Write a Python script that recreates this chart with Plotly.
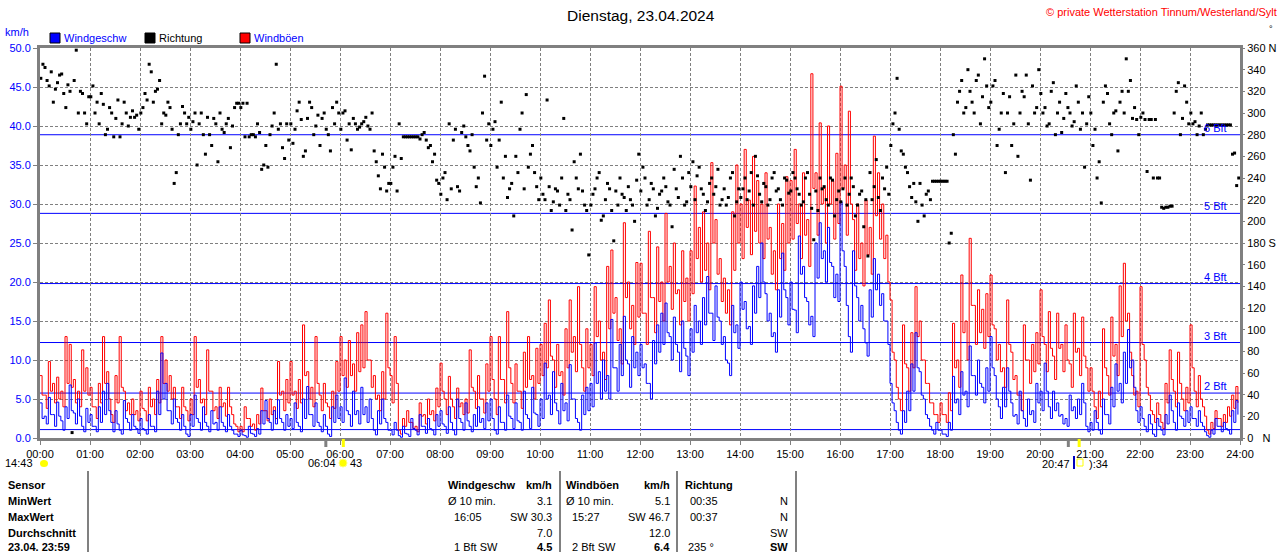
import plotly.graph_objects as go

# 5-min windows, one row per hour (00:00 .. 23:00): peak and trough
wind = [
    4.5, 2.8, 5.2, 3.0, 4.6, 2.2, 4.0, 6.8, 3.2, 5.0, 1.5, 3.8,
    3.0, 1.5, 4.0, 6.0, 7.0, 2.0, 3.5, 1.0, 4.8, 2.0, 3.0, 1.2,
    2.5, 1.0, 3.0, 1.5, 6.0, 10.9, 7.0, 3.5, 5.0, 2.0, 3.0, 0.5,
    3.0, 5.5, 2.0, 4.0, 1.5, 3.5, 2.0, 4.0, 1.5, 3.0, 1.0, 0.5,
    1.0, 0.3, 1.5, 0.5, 1.2, 3.5, 4.8, 2.0, 3.5, 4.9, 2.0, 3.0,
    2.5, 4.5, 1.5, 5.0, 6.6, 3.0, 4.5, 1.5, 3.0, 0.5, 4.0, 5.5,
    4.0, 7.7, 3.0, 6.0, 3.5, 6.5, 4.0, 5.0, 1.0, 3.5, 5.0, 2.0,
    1.0, 2.0, 0.3, 1.5, 0.5, 2.5, 1.0, 3.0, 1.5, 2.5, 1.0, 3.0,
    3.5, 1.5, 4.0, 1.0, 5.0, 2.0, 4.5, 1.5, 3.0, 4.0, 2.5, 4.5,
    5.0, 1.0, 4.0, 2.0, 5.5, 2.5, 4.5, 2.0, 6.0, 2.5, 6.5, 3.0,
    5.0, 9.6, 5.5, 8.5, 3.5, 7.0, 4.5, 9.4, 5.0, 2.0, 5.5, 6.5,
    7.0, 12.2, 8.5, 10.0, 8.0, 15.2, 9.0, 12.0, 15.6, 9.5, 13.0, 11.0,
    12.0, 9.5, 7.0, 12.5, 14.5, 16.0, 17.3, 13.0, 15.5, 11.0, 15.0, 10.5,
    14.0, 17.0, 15.0, 18.0, 20.7, 16.0, 19.5, 15.0, 13.0, 9.6, 17.0, 14.5,
    20.0, 17.5, 14.3, 19.5, 22.0, 25.0, 18.5, 16.0, 13.5, 19.0, 23.7, 18.0,
    20.0, 16.4, 25.9, 22.0, 17.5, 15.6, 25.0, 27.6, 24.0, 27.0, 22.0, 21.0,
    30.3, 22.0, 13.0, 24.0, 18.0, 17.0, 12.2, 19.0, 23.0, 21.0, 18.5, 15.0,
    7.0, 3.5, 1.0, 3.5, 6.0, 9.5, 13.5, 8.5, 5.0, 2.5, 1.0, 2.0,
    1.0, 0.5, 2.0, 7.9, 5.0, 8.5, 6.0, 11.8, 8.0, 10.0, 6.5, 9.0,
    13.0, 8.0, 4.0, 6.5, 9.0, 4.5, 3.0, 6.0, 2.5, 5.0, 3.5, 7.0,
    6.0, 9.6, 4.0, 6.0, 4.5, 3.0, 2.5, 5.5, 4.0, 5.0, 7.0, 1.5,
    2.0, 3.5, 1.0, 5.0, 3.0, 6.5, 9.5, 7.0, 11.0, 13.9, 10.0, 3.5,
    4.0, 1.5, 3.0, 0.5, 2.5, 1.0, 3.0, 5.5, 2.0, 4.5, 2.5, 3.5,
    4.0, 2.5, 3.5, 1.5, 0.3, 1.0, 2.5, 1.5, 2.0, 1.0, 3.5, 4.8,
]

wind_lo = [
    2.5, 1.8, 3.0, 1.5, 2.8, 1.0, 2.5, 3.5, 1.8, 2.8, 0.8, 2.0,
    1.5, 0.8, 2.0, 3.0, 3.5, 0.8, 1.8, 0.5, 2.5, 1.0, 1.5, 0.6,
    1.2, 0.5, 1.5, 0.8, 3.0, 5.0, 3.5, 1.8, 2.5, 1.0, 1.5, 0.2,
    1.5, 2.5, 1.0, 2.0, 0.8, 1.8, 1.0, 2.0, 0.8, 1.5, 0.5, 0.2,
    0.4, 0.1, 0.6, 0.2, 0.5, 1.8, 2.5, 1.0, 1.8, 2.5, 1.0, 1.5,
    1.2, 2.0, 0.8, 2.5, 3.0, 1.5, 2.0, 0.8, 1.5, 0.2, 2.0, 2.5,
    2.0, 3.5, 1.5, 3.0, 1.8, 3.0, 2.0, 2.5, 0.4, 1.8, 2.5, 1.0,
    0.4, 1.0, 0.1, 0.6, 0.2, 1.2, 0.4, 1.5, 0.6, 1.2, 0.4, 1.5,
    1.8, 0.6, 2.0, 0.4, 2.5, 1.0, 2.2, 0.8, 1.5, 2.0, 1.2, 2.2,
    2.5, 0.5, 2.0, 1.0, 2.8, 1.2, 2.2, 1.0, 3.0, 1.2, 3.2, 1.5,
    2.5, 5.0, 3.0, 4.5, 1.8, 3.5, 2.2, 5.0, 2.5, 1.0, 3.0, 3.5,
    4.0, 7.0, 5.0, 6.0, 5.0, 9.0, 6.0, 8.0, 10.0, 6.5, 9.0, 8.0,
    9.0, 7.0, 5.0, 9.5, 11.0, 12.0, 13.5, 10.0, 12.0, 8.5, 11.5, 8.0,
    11.0, 13.5, 12.0, 14.5, 16.0, 12.5, 15.5, 12.0, 10.0, 8.0, 13.5, 11.5,
    16.5, 14.0, 12.0, 16.0, 18.0, 20.0, 15.0, 13.0, 11.0, 15.5, 19.0, 14.5,
    16.5, 13.5, 21.0, 18.0, 14.5, 13.0, 20.5, 23.0, 20.0, 22.5, 18.0, 17.5,
    24.0, 17.0, 11.0, 19.5, 15.0, 14.0, 10.5, 15.5, 19.0, 17.0, 15.0, 12.0,
    4.5, 2.0, 0.5, 2.0, 3.5, 6.0, 9.0, 5.5, 3.0, 1.5, 0.5, 1.0,
    0.5, 0.2, 1.0, 4.5, 3.0, 5.5, 4.0, 8.0, 5.5, 7.0, 4.5, 6.0,
    9.0, 5.0, 2.5, 4.0, 6.0, 2.8, 1.8, 3.5, 1.5, 3.0, 2.0, 4.5,
    3.5, 6.0, 2.5, 3.5, 2.8, 1.8, 1.5, 3.5, 2.5, 3.0, 4.5, 0.8,
    1.0, 2.0, 0.5, 3.0, 1.8, 4.0, 6.0, 4.5, 7.0, 9.0, 6.5, 2.0,
    2.5, 0.8, 1.8, 0.2, 1.5, 0.4, 1.8, 3.5, 1.0, 2.8, 1.5, 2.0,
    2.5, 1.5, 2.0, 0.8, 0.1, 0.5, 1.5, 0.8, 1.2, 0.5, 2.0, 3.0,
]

gust = [
    8.0, 5.5, 9.8, 7.0, 7.8, 6.0, 13.0, 12.0, 7.5, 6.0, 11.3, 9.0,
    6.5, 4.0, 7.0, 13.0, 8.5, 3.0, 8.0, 13.0, 6.0, 4.5, 5.0, 3.5,
    6.0, 3.5, 6.5, 5.0, 7.5, 13.0, 10.0, 8.0, 6.5, 4.0, 6.5, 3.5,
    5.0, 13.0, 7.5, 5.0, 11.3, 6.0, 4.0, 6.5, 4.5, 6.5, 3.0, 1.5,
    1.5, 4.0, 2.5, 1.8, 3.0, 6.4, 3.5, 5.0, 4.0, 9.8, 6.0, 7.5,
    9.8, 6.0, 7.5, 14.5, 8.5, 6.5, 13.0, 5.5, 7.0, 4.0, 6.0, 9.8,
    13.0, 10.0, 12.5, 9.5, 13.5, 14.5, 16.2, 10.0, 8.0, 5.5, 8.5, 16.0,
    8.0, 13.0, 1.0, 2.5, 3.5, 2.0, 1.5, 4.5, 3.0, 5.0, 3.5, 6.4,
    9.6, 5.0, 7.9, 4.0, 6.4, 4.5, 5.0, 11.3, 6.0, 8.0, 5.0, 9.5,
    13.0, 5.0, 13.0, 7.5, 16.2, 7.0, 9.5, 6.0, 11.0, 13.0, 8.0, 11.5,
    12.0, 14.7, 17.7, 10.0, 12.0, 8.5, 14.0, 17.7, 13.0, 19.4, 9.0, 14.0,
    12.0, 19.4, 15.0, 11.0, 22.0, 24.1, 18.0, 14.0, 27.6, 20.0, 17.0, 22.5,
    22.4, 16.0, 26.5, 18.0, 24.5, 20.0, 28.8, 22.0, 25.0, 19.0, 24.0, 20.5,
    24.0, 32.3, 27.0, 29.0, 25.0, 35.3, 28.0, 23.0, 20.5, 19.0, 29.0, 35.0,
    30.0, 37.0, 30.5, 36.1, 33.0, 30.0, 34.0, 27.0, 24.0, 30.0, 27.5, 33.5,
    33.0, 37.0, 30.0, 34.0, 28.0, 46.7, 34.0, 40.4, 32.0, 40.0, 33.0, 36.5,
    45.1, 35.0, 41.9, 28.0, 30.0, 25.0, 30.5, 27.0, 38.7, 34.0, 30.0, 26.0,
    17.7, 10.0, 5.0, 14.5, 9.0, 13.5, 19.4, 15.0, 10.0, 7.0, 4.5, 3.0,
    4.5, 3.0, 5.8, 14.7, 10.0, 20.9, 15.0, 25.6, 17.0, 19.0, 16.5, 18.5,
    20.9, 14.0, 12.0, 9.0, 17.7, 11.0, 8.0, 5.5, 14.5, 10.0, 12.0, 13.5,
    19.0, 12.0, 16.2, 10.5, 16.0, 12.0, 14.5, 9.5, 16.0, 11.5, 15.5, 9.0,
    9.0, 4.0, 6.0, 14.0, 8.0, 15.5, 12.0, 19.5, 22.4, 16.0, 8.0, 6.0,
    19.4, 10.0, 5.5, 3.0, 4.5, 2.0, 7.0, 11.3, 6.0, 11.0, 5.0, 6.5,
    14.5, 6.0, 8.0, 4.0, 1.0, 2.0, 3.5, 2.5, 3.0, 4.0, 5.5, 6.6,
]

gust_lo = [
    5.5, 3.8, 6.0, 4.5, 5.0, 4.0, 7.0, 6.5, 4.5, 4.0, 6.0, 5.5,
    4.0, 2.5, 4.5, 7.0, 5.0, 2.0, 4.5, 6.5, 3.5, 3.0, 3.0, 2.2,
    3.8, 2.2, 4.0, 3.0, 4.5, 7.0, 6.0, 5.0, 4.0, 2.5, 4.0, 2.2,
    3.0, 6.5, 4.5, 3.0, 6.0, 3.5, 2.5, 4.0, 2.8, 4.0, 1.8, 0.8,
    0.8, 2.5, 1.5, 1.0, 1.8, 3.5, 2.2, 3.0, 2.5, 5.5, 3.5, 4.5,
    5.5, 3.8, 4.5, 8.0, 5.0, 4.0, 7.0, 3.5, 4.5, 2.5, 3.8, 6.0,
    8.0, 6.5, 8.0, 6.0, 8.5, 9.0, 10.0, 6.5, 5.0, 3.5, 5.0, 9.0,
    4.5, 7.0, 0.5, 1.5, 2.0, 1.2, 0.8, 2.8, 1.8, 3.0, 2.2, 4.0,
    6.0, 3.0, 5.0, 2.5, 4.0, 3.0, 3.2, 6.5, 3.8, 5.0, 3.2, 6.0,
    7.5, 3.0, 7.5, 4.5, 9.0, 4.5, 6.0, 3.8, 6.5, 7.5, 5.0, 7.0,
    8.0, 9.0, 10.5, 6.5, 8.0, 5.5, 9.0, 11.0, 8.5, 12.0, 6.0, 9.0,
    8.0, 13.0, 10.0, 7.5, 14.0, 16.0, 12.5, 9.5, 18.0, 14.0, 12.0, 15.5,
    16.0, 12.0, 18.0, 13.5, 17.5, 15.0, 20.0, 16.5, 18.5, 14.5, 17.5, 15.0,
    18.5, 23.0, 20.0, 21.5, 19.0, 25.0, 21.0, 17.5, 16.0, 14.5, 21.5, 25.0,
    23.0, 27.0, 23.5, 26.5, 25.0, 23.0, 25.5, 21.0, 19.0, 23.0, 21.5, 25.0,
    25.5, 27.5, 23.0, 26.0, 22.0, 32.0, 26.0, 30.0, 25.0, 30.0, 25.5, 27.5,
    32.0, 26.0, 30.0, 21.5, 23.0, 19.5, 23.5, 21.0, 28.5, 25.5, 23.0, 20.0,
    11.0, 6.5, 3.5, 9.5, 6.0, 9.0, 13.0, 10.0, 7.0, 4.5, 3.0, 2.0,
    3.0, 2.0, 3.5, 9.0, 6.5, 13.5, 10.0, 17.0, 12.0, 13.5, 11.5, 13.0,
    14.5, 10.0, 8.5, 6.5, 12.0, 7.5, 5.5, 3.5, 10.0, 7.0, 8.5, 9.5,
    13.0, 8.5, 11.5, 7.5, 11.5, 8.5, 10.0, 6.5, 11.0, 8.0, 10.5, 6.0,
    6.0, 2.5, 4.0, 9.0, 5.5, 10.5, 8.0, 13.0, 15.0, 11.0, 5.5, 4.0,
    12.0, 6.5, 3.5, 2.0, 3.0, 1.2, 4.5, 7.5, 4.0, 7.0, 3.5, 4.5,
    9.0, 4.0, 5.0, 2.8, 0.5, 1.2, 2.5, 1.5, 2.0, 2.8, 3.8, 4.5,
]

# two direction readings per 5-min window (degrees)
direction = [
    345, 330, 338, 322, 335, 318, 326, 5, 358, 320, 300, 315,
    325, 310, 318, 280, 305, 278, 312, 290, 300, 296, 296, 285,
    305, 312, 338, 320, 330, 300, 310, 285, 245, 290, 300, 296,
    292, 252, 300, 262, 280, 295, 255, 285, 290, 268, 305, 309,
    309, 309, 280, 278, 282, 252, 250, 288, 345, 290, 258, 275,
    272, 302, 294, 265, 310, 280, 298, 295, 285, 265, 290, 300,
    300, 275, 266, 290, 287, 292, 288, 300, 255, 230, 250, 235,
    250, 228, 258, 278, 278, 278, 278, 280, 275, 270, 262, 235,
    240, 220, 230, 285, 228, 288, 270, 280, 232, 217, 334, 290,
    285, 250, 310, 260, 230, 205, 245, 300, 317, 262, 245, 220,
    225, 312, 210, 230, 215, 295, 225, 192, 240, 262, 215, 169,
    225, 240, 201, 220, 230, 182, 215, 225, 210, 220, 200, 262,
    250, 215, 235, 205, 225, 240, 218, 195, 230, 260, 215, 245,
    255, 242, 230, 210, 235, 225, 248, 220, 215, 240, 205, 230,
    230, 220, 245, 260, 225, 235, 215, 240, 228, 220, 240, 226,
    245, 230, 215, 240, 225, 183, 210, 230, 220, 240, 205, 228,
    230, 215, 240, 205, 225, 195, 168, 220, 257, 210, 230, 225,
    290, 332, 265, 250, 232, 235, 200, 215, 225, 220, 237, 237,
    237, 237, 189, 262, 320, 300, 340, 310, 330, 290, 350, 305,
    325, 270, 300, 245, 315, 290, 260, 320, 335, 238, 300, 340,
    300, 288, 320, 280, 310, 295, 305, 288, 325, 285, 250, 315,
    270, 240, 217, 325, 290, 300, 265, 320, 350, 330, 305, 280,
    300, 246, 294, 294, 240, 212, 213, 214, 320, 280, 325, 290,
    290, 280, 300, 285, 289, 289, 289, 289, 289, 289, 263, 240,
]

direction_b = [
    332, 342, 325, 310, 328, 336, 305, 320, 330, 300, 318, 290,
    315, 300, 290, 308, 285, 300, 295, 278, 310, 288, 302, 298,
    300, 318, 345, 310, 322, 290, 298, 305, 235, 280, 306, 290,
    285, 300, 290, 280, 296, 270, 290, 300, 282, 295, 288, 309,
    305, 278, 278, 280, 290, 248, 270, 280, 300, 285, 268, 290,
    290, 285, 310, 260, 295, 305, 288, 270, 300, 280, 305, 310,
    285, 302, 290, 295, 285, 290, 296, 285, 265, 242, 262, 228,
    235, 260, 290, 278, 278, 278, 278, 276, 282, 268, 255, 238,
    225, 245, 290, 275, 232, 282, 278, 265, 250, 240, 300, 275,
    270, 292, 275, 240, 222, 235, 260, 285, 230, 250, 270, 232,
    240, 220, 232, 218, 228, 240, 210, 220, 255, 230, 228, 210,
    215, 230, 245, 205, 235, 210, 228, 240, 222, 232, 215, 238,
    228, 240, 220, 230, 212, 228, 232, 215, 248, 222, 240, 218,
    232, 220, 250, 225, 218, 240, 232, 215, 230, 222, 245, 218,
    222, 240, 228, 215, 242, 218, 232, 220, 245, 230, 215, 238,
    228, 240, 225, 218, 245, 212, 228, 240, 232, 215, 238, 220,
    218, 240, 225, 232, 215, 228, 220, 245, 232, 222, 240, 250,
    270, 300, 285, 262, 245, 222, 218, 235, 205, 228, 237, 237,
    237, 237, 180, 280, 310, 330, 305, 320, 300, 335, 315, 325,
    310, 330, 285, 318, 300, 270, 335, 300, 315, 290, 325, 305,
    318, 305, 290, 328, 300, 282, 318, 300, 292, 310, 300, 290,
    300, 285, 255, 310, 318, 280, 302, 310, 300, 320, 295, 294,
    296, 294, 294, 240, 240, 213, 213, 214, 300, 328, 295, 310,
    300, 292, 288, 280, 289, 289, 289, 289, 289, 289, 262, 233,
]

hour_labels = [f"{h:02d}:00" for h in range(25)]
dir_ticks = [0, 20, 40, 60, 80, 100, 120, 140, 160, 180, 200, 220, 240, 260, 280, 300, 320, 340, 360]
dir_labels = ["0   N", "20", "40", "60", "80", "100", "120", "140", "160", "180 S", "200", "220",
              "240", "260", "280", "300", "320", "340", "360 N"]

# beaufort limits in km/h
bft_kmh = [1.08, 5.76, 12.24, 19.8, 28.8, 38.88]
bft_names = ["", "2 Bft", "3 Bft", "4 Bft", "5 Bft", "6 Bft"]

moon_times = [343, 1234]   # minutes after midnight
sun_times = [364, 1247]

table_rows = ["Sensor", "MinWert", "MaxWert", "Durchschnitt", "23.04. 23:59"]
speed_col = [("Ø 10 min.", "3.1"), ("16:05", "SW 30.3"), ("", "7.0"), ("1 Bft SW", "4.5")]
gust_col = [("Ø 10 min.", "5.1"), ("15:27", "SW 46.7"), ("", "12.0"), ("2 Bft SW", "6.4")]
dir_col = [("00:35", "N"), ("00:37", "N"), ("", "SW"), ("235 °", "SW")]

FONT = "Liberation Sans"
GRID = "#808080"


def px(x):
    return (x - 40) / 1200


def py(y):
    return (438 - y) / 390


def merged(hi, lo):
    # peak at the window start, trough half way through it
    xs, ys = [], []
    for i, (a, b) in enumerate(zip(hi, lo)):
        xs += [i * 5, i * 5 + 2.5]
        ys += [a, b]
    return xs, ys


gx, gy = merged(gust, gust_lo)
wx, wy = merged(wind, wind_lo)
dx = [i * 5 + 1 for i in range(len(direction_b))] + [i * 5 + 3.5 for i in range(len(direction))]
dy = direction_b + direction

fig = go.Figure()
fig.add_trace(go.Scatter(x=gx, y=gy, mode="lines", line=dict(color="#ff0000", width=1, shape="hv"),
                         name="Windböen"))
fig.add_trace(go.Scatter(x=wx, y=wy, mode="lines", line=dict(color="#0000ff", width=1, shape="hv"),
                         name="Windgeschw"))
fig.add_trace(go.Scatter(x=dx, y=dy, mode="markers", yaxis="y2",
                         marker=dict(symbol="square", size=3, color="black", line=dict(width=0)),
                         name="Richtung"))

shapes = []
annots = []


def note(x, y, text, anchor="left", color="black", size=11, bold=False):
    if bold:
        text = f"<b>{text}</b>"
    annots.append(dict(x=px(x), y=py(y), xref="paper", yref="paper", text=text, showarrow=False,
                       xanchor=anchor, yanchor="middle", borderpad=0,
                       font=dict(family=FONT, size=size, color=color)))


for v, name in zip(bft_kmh, bft_names):
    shapes.append(dict(type="line", xref="paper", yref="y", x0=0, x1=1, y0=v, y1=v,
                       line=dict(color="#0000ff", width=1), layer="below"))
    if name:
        annots.append(dict(x=px(1228), y=v, xref="paper", yref="y", text=name, showarrow=False,
                           xanchor="right", yanchor="bottom", borderpad=0,
                           font=dict(family=FONT, size=11, color="#0000ff")))

# header
note(641, 15, "Dienstag, 23.04.2024", anchor="center", size=15.5)
note(1278, 12, "© private Wetterstation Tinnum/Westerland/Sylt", anchor="right", color="#ff0000", size=11)
note(1271, 29, "°", anchor="center", size=9)
note(4, 32, "km/h", color="#0000ff")
legend = [(50, "#0000ff", "Windgeschw", "#0000ff"), (145, "black", "Richtung", "black"),
          (240, "#ff0000", "Windböen", "#0000ff")]
for x0, fill, label, tcol in legend:
    shapes.append(dict(type="rect", xref="paper", yref="paper", x0=px(x0), x1=px(x0 + 10),
                       y0=py(43), y1=py(33), fillcolor=fill, line=dict(color="black", width=1)))
    note(x0 + 13, 38, label, color=tcol)

# moon / sun marks under the axis
for t in moon_times:
    shapes.append(dict(type="line", xref="x", yref="paper", x0=t, x1=t, y0=py(439), y1=py(447),
                       line=dict(color=GRID, width=3)))
for t in sun_times:
    shapes.append(dict(type="line", xref="x", yref="paper", x0=t, x1=t, y0=py(439), y1=py(447),
                       line=dict(color="#ffff00", width=3)))
note(4, 463, "14:43")
shapes.append(dict(type="circle", xref="paper", yref="paper", x0=px(40), x1=px(48), y0=py(467), y1=py(460),
                   fillcolor="#ffff00", line=dict(width=0)))
note(337, 463, "06:04", anchor="right")
shapes.append(dict(type="circle", xref="paper", yref="paper", x0=px(339), x1=px(347), y0=py(467), y1=py(459),
                   fillcolor="#ffff00", line=dict(color="#ffff80", width=1)))
note(349, 463, "43")
note(1071, 464, "20:47", anchor="right")
shapes.append(dict(type="line", xref="paper", yref="paper", x0=px(1074), x1=px(1074), y0=py(456), y1=py(469),
                   line=dict(color="#0000c0", width=2)))
shapes.append(dict(type="rect", xref="paper", yref="paper", x0=px(1077), x1=px(1083), y0=py(466), y1=py(459),
                   line=dict(color="#ffff00", width=1)))
note(1088, 464, "):34")

# stats table
for xl in [88, 560, 677, 796]:
    shapes.append(dict(type="line", xref="paper", yref="paper", x0=px(xl), x1=px(xl), y0=py(471), y1=py(560),
                       line=dict(color=GRID, width=2)))
row_y = [485, 501, 517, 533, 547]
for yy, label in zip(row_y, table_rows):
    note(7, yy, label, bold=True)
note(447, 485, "Windgeschw", bold=True)
note(553, 485, "km/h", anchor="right", bold=True)
note(565, 485, "Windböen", bold=True)
note(671, 485, "km/h", anchor="right", bold=True)
note(684, 485, "Richtung", bold=True)
for i, yy in enumerate(row_y[1:]):
    last = i == 3
    lt, rt = speed_col[i]
    note(447 if i == 0 else 453, yy, lt)
    note(553, yy, rt, anchor="right", bold=last)
    lt, rt = gust_col[i]
    note(565 if i == 0 else 571, yy, lt)
    note(671, yy, rt, anchor="right", bold=last)
    lt, rt = dir_col[i]
    note(687 if last else 689, yy, lt)
    note(789, yy, rt, anchor="right", bold=last)

fig.update_layout(
    width=1280, height=552,
    margin=dict(l=40, r=40, t=48, b=114),
    plot_bgcolor="white", paper_bgcolor="white",
    showlegend=False,
    font=dict(family=FONT, size=11, color="black"),
    shapes=shapes, annotations=annots,
    xaxis=dict(range=[0, 1440], tickvals=[h * 60 for h in range(25)], ticktext=hour_labels,
               showgrid=True, gridcolor=GRID, griddash="3px,2px", gridwidth=1,
               showline=True, linecolor=GRID, linewidth=3, mirror=True, automargin=False,
               ticks="outside", ticklen=4, tickcolor=GRID, zeroline=False,
               tickfont=dict(family=FONT, size=11, color="black")),
    yaxis=dict(range=[0, 50], dtick=5, tickformat=".1f",
               showgrid=True, gridcolor=GRID, griddash="3px,2px", gridwidth=1,
               showline=True, linecolor=GRID, linewidth=3, mirror=True, automargin=False,
               ticks="outside", ticklen=4, tickcolor=GRID, zeroline=False,
               tickfont=dict(family=FONT, size=11, color="#0000ff")),
    yaxis2=dict(range=[0, 360], overlaying="y", side="right", tickvals=dir_ticks, ticktext=dir_labels,
                showgrid=False, zeroline=False, ticks="outside", ticklen=4, tickcolor=GRID, automargin=False,
                tickfont=dict(family=FONT, size=11, color="black")),
)

fig.write_html("out.html", config={"displayModeBar": False},
               post_script="document.body.style.margin='0';document.body.style.overflow='hidden';")
